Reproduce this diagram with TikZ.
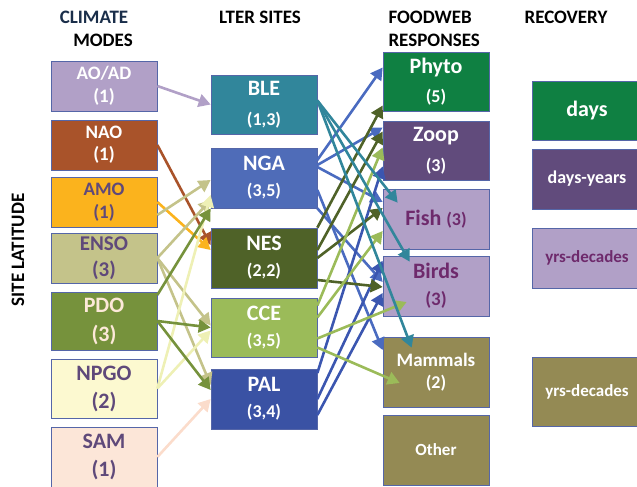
\documentclass[tikz,border=0pt]{standalone}
\usepackage{fontspec}
\setmainfont{Carlito}
\usepackage{tikz}
\usetikzlibrary{arrows.meta,shapes,shadows}
\usetikzlibrary{positioning}
\definecolor{boxline}{HTML}{5566A8}
\definecolor{navy}{HTML}{1A2E4A}
\definecolor{aoad}{HTML}{B1A0C7}
\definecolor{nao}{HTML}{A9532A}
\definecolor{amo}{HTML}{FBB31D}
\definecolor{enso}{HTML}{C4C38A}
\definecolor{pdo}{HTML}{76923C}
\definecolor{npgo}{HTML}{FCF9D0}
\definecolor{npgoline}{HTML}{EEF0B5}
\definecolor{sam}{HTML}{FCE6D8}
\definecolor{samline}{HTML}{FBDCCB}
\definecolor{ble}{HTML}{31869B}
\definecolor{nga}{HTML}{4F6CB8}
\definecolor{ngaline}{HTML}{4A6BC0}
\definecolor{nes}{HTML}{4F6228}
\definecolor{cce}{HTML}{9BBB59}
\definecolor{pal}{HTML}{3A52A4}
\definecolor{palline}{HTML}{3B56B0}
\definecolor{phyto}{HTML}{0F8042}
\definecolor{zoop}{HTML}{614B7C}
\definecolor{fish}{HTML}{B1A0C7}
\definecolor{mammal}{HTML}{948A54}
\definecolor{modetext}{HTML}{5F497A}
\definecolor{fishtext}{HTML}{6E2A6C}
\definecolor{pdotext}{HTML}{FDE9D9}
\newcommand{\fsz}[2]{\fontsize{#1}{#2}\selectfont\bfseries}
\tikzstyle{mode} = [rectangle, minimum width=106pt, minimum height=50pt, text centered, align=center, draw=boxline, line width=0.7pt, inner sep=0pt, drop shadow={shadow xshift=1.2pt, shadow yshift=-1.2pt, fill=black, opacity=0.2}]
\tikzstyle{head} = [font=\fsz{19}{23}, align=left]
\tikzstyle{link} = [line width=2.6pt, -{Triangle[length=12pt,width=13pt]}]
\begin{document}
\begin{tikzpicture}[x=1pt, y=-1pt]
\useasboundingbox (0,0) rectangle (637,487);
% column titles
\node (hclim) [head, text=navy] at (94,17) {CLIMATE};
\node (hmodes) [head] at (103,40) {MODES};
\node (hsites) [head] at (260,17) {LTER SITES};
\node (hfood) [head, anchor=west] at (385,29) {FOODWEB\\RESPONSES};
\node (hrec) [head] at (566,17) {RECOVERY};
\node (hlat) [head, rotate=90] at (18,250) {SITE LATITUDE};
% climate modes
\node (AOAD) [mode, fill=aoad, text=white, font=\fsz{19}{23}] at (104,86) {AO/AD\\(1)};
\node (NAO) [mode, fill=nao, text=white, font=\fsz{19}{22}, below of=AOAD, node distance=59pt] {NAO\\(1)};
\node (AMO) [mode, fill=amo, text=modetext, font=\fsz{19}{23}, below of=NAO, node distance=57pt] {AMO\\(1)};
\node (ENSO) [mode, fill=enso, text=modetext, font=\fsz{21}{26}, below of=AMO, node distance=56pt] {ENSO\\(3)};
\node (PDO) [mode, fill=pdo, text=pdotext, minimum height=58pt, font=\fsz{22}{29}, below of=ENSO, node distance=63pt] {PDO\\(3)};
\node (NPGO) [mode, fill=npgo, text=modetext, minimum height=59pt, font=\fsz{22}{28}, below of=PDO, node distance=67.5pt] {NPGO\\(2)};
\node (SAM) [mode, fill=sam, text=modetext, minimum height=60pt, font=\fsz{22}{28}, below of=NPGO, node distance=68.5pt] {SAM\\(1)};
% lter sites
\node (BLE) [mode, fill=ble, text=white, minimum height=59pt, font=\fsz{22}{30}] at (264,104.5) {BLE\\{\fsz{18}{30}(1,3)}};
\node (NGA) [mode, fill=nga, text=white, minimum height=60pt, font=\fsz{22}{26}, below of=BLE, node distance=73.5pt] {NGA\\{\fsz{18}{26}(3,5)}};
\node (NES) [mode, fill=nes, text=white, minimum height=60pt, font=\fsz{22}{26}, below of=NGA, node distance=80pt] {NES\\{\fsz{18}{26}(2,2)}};
\node (CCE) [mode, fill=cce, text=white, minimum height=59pt, font=\fsz{22}{26}, below of=NES, node distance=69.5pt] {CCE\\{\fsz{18}{26}(3,5)}};
\node (PAL) [mode, fill=pal, text=white, minimum height=60pt, font=\fsz{22}{26}, below of=CCE, node distance=71.5pt] {PAL\\{\fsz{18}{26}(3,4)}};
% foodweb responses
\node (Phyto) [mode, fill=phyto, text=white, minimum height=59pt, font=\fsz{22}{29}] at (436,81.5) {Phyto\\{\fsz{18}{29}(5)}};
\node (Zoop) [mode, fill=zoop, text=white, minimum height=59pt, font=\fsz{22}{30}, below of=Phyto, node distance=69pt] {Zoop\\{\fsz{18}{30}(3)}};
\node (Fish) [mode, fill=fish, text=fishtext, minimum height=60pt, font=\fsz{22}{26}, below of=Zoop, node distance=68.5pt] {Fish {\fsz{18}{26}(3)}};
\node (Birds) [mode, fill=fish, text=fishtext, minimum height=60pt, font=\fsz{22}{27}, below of=Fish, node distance=67pt] {Birds\\{\fsz{19}{27}(3)}};
\node (Mammals) [mode, fill=mammal, text=white, minimum height=70pt, font=\fsz{19}{22}, below of=Birds, node distance=86pt] {Mammals\\{\fsz{18}{22}(2)}};
\node (Other) [mode, fill=mammal, text=white, minimum height=70pt, font=\fsz{17}{20}, below of=Mammals, node distance=78pt] {Other};
% recovery
\node (days) [mode, fill=phyto, text=white, minimum width=110pt, minimum height=59pt, font=\fsz{22}{26}] at (587,110.5) {days};
\node (daysyrs) [mode, fill=zoop, text=white, minimum width=110pt, minimum height=60pt, font=\fsz{18}{22}, below of=days, node distance=68.5pt] {days-years};
\node (yrsdec) [mode, fill=fish, text=fishtext, minimum width=110pt, minimum height=60pt, font=\fsz{17}{20}, below of=daysyrs, node distance=79pt] {yrs-decades};
\node (yrsdecb) [mode, fill=mammal, text=white, minimum width=110pt, minimum height=69pt, font=\fsz{17}{20}, below of=yrsdec, node distance=133.5pt] {yrs-decades};
% climate modes -> sites
\draw [link, color=aoad] (AOAD.east) -- (BLE.west);
\draw [link, color=nao] (NAO.east) -- ([yshift=13pt]NES.west);
\draw [link, color=amo] (AMO.east) -- ([yshift=8pt]NES.west);
\draw [link, color=enso] ([yshift=-13pt]AMO.east) -- ([yshift=-2pt]NGA.west);
\draw [link, color=enso] (ENSO.east) -- ([yshift=-22pt]NGA.west);
\draw [link, color=enso] (ENSO.east) -- ([yshift=2pt]CCE.west);
\draw [link, color=enso] (ENSO.east) -- ([yshift=14pt]PAL.west);
\draw [link, color=npgoline] (NPGO.east) -- ([yshift=-17pt]NGA.west);
\draw [link, color=npgoline] (NPGO.east) -- ([yshift=-3pt]CCE.west);
\draw [link, color=pdo] ([yshift=26pt]PDO.east) -- (NGA.south west);
\draw [link, color=pdo] (PDO.east) -- (CCE.west);
\draw [link, color=pdo] (PDO.east) -- ([yshift=9pt]PAL.west);
\draw [link, color=samline] (SAM.east) -- (PAL.west);
% sites -> foodweb
\draw [link, color=ngaline] ([yshift=18pt]NGA.east) -- ([yshift=14pt]Phyto.west);
\draw [link, color=ngaline] ([yshift=13pt]NGA.east) -- ([yshift=23pt]Zoop.west);
\draw [link, color=ngaline] ([yshift=11pt]NGA.east) -- ([yshift=17pt]Fish.west);
\draw [link, color=ngaline] ([yshift=-12pt]NGA.east) -- ([yshift=22pt]Mammals.west);
\draw [link, color=ngaline] (NGA.south east) -- ([yshift=4pt]Birds.west);
\draw [link, color=palline] ([yshift=26pt]PAL.east) -- ([yshift=-16pt]Zoop.west);
\draw [link, color=palline] (PAL.east) -- ([yshift=-5pt]Birds.north west);
\draw [link, color=palline] ([yshift=-16pt]PAL.east) -- ([yshift=-7pt]Birds.west);
\draw [link, color=nes] (NES.north east) -- ([yshift=-24pt]Phyto.west);
\draw [link, color=nes] ([yshift=8pt]NES.east) -- ([yshift=19pt]Zoop.west);
\draw [link, color=nes] (NES.east) -- ([yshift=11pt]Fish.west);
\draw [link, color=nes] ([yshift=-22pt]NES.east) -- ([yshift=-1pt]Birds.west);
\draw [link, color=cce] ([yshift=22pt]CCE.east) -- ([yshift=3pt]Zoop.west);
\draw [link, color=cce] ([yshift=10pt]CCE.east) -- ([yshift=-12pt]Fish.west);
\draw [link, color=cce] ([yshift=-11pt]CCE.east) -- ([xshift=24pt,yshift=-16pt]Birds.west);
\draw [link, color=cce] ([yshift=-20pt]CCE.east) -- ([xshift=17pt,yshift=-11pt]Mammals.west);
\draw [link, color=ble] ([yshift=4pt]BLE.east) -- ([xshift=15pt,yshift=-14pt]Fish.north west);
\draw [link, color=ble] ([yshift=4pt]BLE.east) -- ([xshift=27pt,yshift=-6pt]Birds.north west);
\draw [link, color=ble] ([yshift=4pt]BLE.east) -- ([xshift=29pt,yshift=-11pt]Mammals.north west);
\end{tikzpicture}
\end{document}
